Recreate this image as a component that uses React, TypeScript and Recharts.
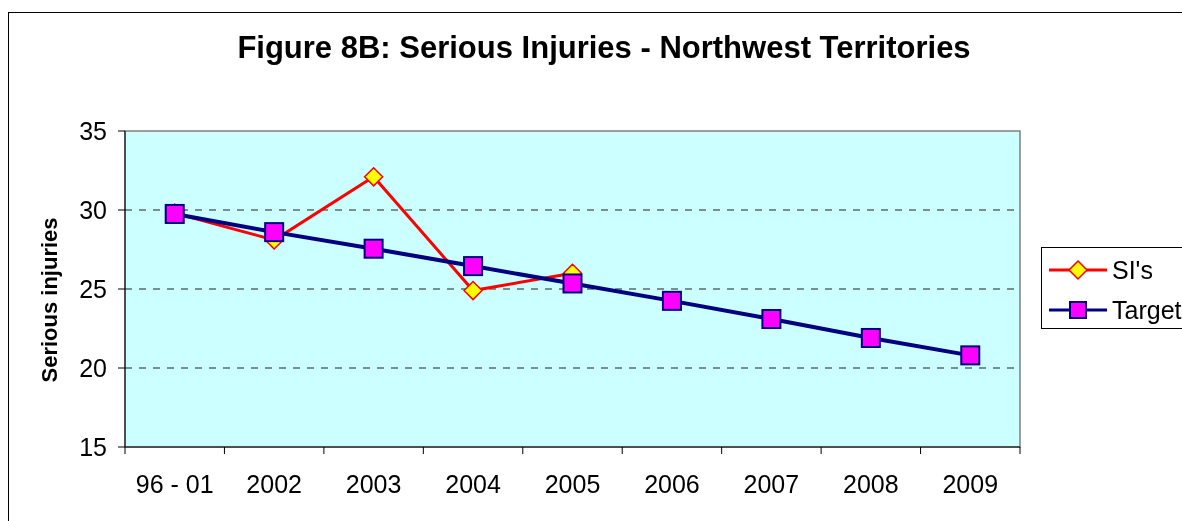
import { LineChart, Line, XAxis, YAxis, ReferenceArea, ReferenceLine } from 'recharts';

const categories = ['96 - 01', '2002', '2003', '2004', '2005', '2006', '2007', '2008', '2009'];
const siValues = [29.8, 28.1, 32.1, 24.9, 26.0, null, null, null, null];
const targetValues = [29.75, 28.6, 27.55, 26.45, 25.35, 24.25, 23.1, 21.9, 20.8];
const yTicks = [15, 20, 25, 30, 35];
const gridValues = [20, 25, 30];

const data = categories.map((name, i) => ({ name, si: siValues[i], target: targetValues[i] }));

const FONT = '"Liberation Sans", Arial, sans-serif';
const PLOT_W = 895;
const BAND = PLOT_W / categories.length;

const Diamond = (props: any) => {
  const { cx, cy } = props;
  if (cx == null || cy == null) return null;
  const r = 9;
  return (
    <polygon
      points={`${cx},${cy - r} ${cx + r},${cy} ${cx},${cy + r} ${cx - r},${cy}`}
      fill="#FFFF00"
      stroke="#FF0000"
      strokeWidth={1.5}
    />
  );
};

const Square = (props: any) => {
  const { cx, cy } = props;
  if (cx == null || cy == null) return null;
  return <rect x={cx - 9} y={cy - 9} width={18} height={18} fill="#FF00FF" stroke="#000080" strokeWidth={2} />;
};

const XTick = (props: any) => {
  const { x, y, payload, index } = props;
  return (
    <g>
      <line x1={x - BAND / 2} y1={y} x2={x - BAND / 2} y2={y + 7} stroke="#000" />
      {index === categories.length - 1 && (
        <line x1={x + BAND / 2} y1={y} x2={x + BAND / 2} y2={y + 7} stroke="#000" />
      )}
      <text x={x} y={y + 46} textAnchor="middle" fontSize={25} fontFamily={FONT} fill="#000">
        {payload.value}
      </text>
    </g>
  );
};

export default function App() {
  return (
    <div style={{ position: 'fixed', left: 8, top: 12, width: 1174, height: 509, overflow: 'hidden', fontFamily: FONT }}>
      <div style={{ position: 'absolute', left: 0, top: 0, width: 1300, height: 600, border: '1px solid #000', boxSizing: 'border-box' }} />

      <div style={{ position: 'absolute', left: 0, top: 18, width: 1192, textAlign: 'center', fontSize: 31, fontWeight: 'bold', whiteSpace: 'nowrap' }}>
        Figure 8B: Serious Injuries - Northwest Territories
      </div>

      <div
        style={{
          position: 'absolute', left: -108, top: 275, width: 300, height: 26, lineHeight: '26px',
          textAlign: 'center', fontSize: 22, fontWeight: 'bold', transform: 'rotate(-90deg)',
        }}
      >
        Serious injuries
      </div>

      <div style={{ position: 'absolute', left: 1, top: 1 }}>
        <LineChart width={1173} height={508} data={data} margin={{ top: 118, right: 162, left: 56, bottom: 34 }}>
          <ReferenceArea y1={15} y2={35} fill="#CCFFFF" fillOpacity={1} stroke="#808080" strokeWidth={1.5} />
          {gridValues.map((v) => (
            <ReferenceLine key={v} y={v} stroke="#222" strokeDasharray="7 7" />
          ))}
          <XAxis
            dataKey="name"
            scale="band"
            interval={0}
            height={40}
            tickLine={false}
            tickSize={0}
            tickMargin={0}
            axisLine={{ stroke: '#000' }}
            tick={<XTick />}
          />
          <YAxis
            domain={[15, 35]}
            ticks={yTicks}
            width={60}
            tickSize={7}
            tickMargin={11}
            axisLine={{ stroke: '#000' }}
            tickLine={{ stroke: '#000' }}
            tick={{ fontSize: 25, fill: '#000', fontFamily: FONT }}
          />
          <Line dataKey="si" stroke="#FF0000" strokeWidth={3} dot={<Diamond />} activeDot={false} isAnimationActive={false} />
          <Line dataKey="target" stroke="#000080" strokeWidth={4} dot={<Square />} activeDot={false} isAnimationActive={false} />
        </LineChart>
      </div>

      <div style={{ position: 'absolute', left: 1033, top: 235, width: 200, height: 82, border: '1px solid #000', background: '#fff', boxSizing: 'border-box' }}>
        <svg style={{ position: 'absolute', left: 7, top: 0 }} width={60} height={80}>
          <line x1={0} y1={22} x2={58} y2={22} stroke="#FF0000" strokeWidth={3} />
          <polygon points="29,13 38,22 29,31 20,22" fill="#FFFF00" stroke="#FF0000" strokeWidth={1.5} />
          <line x1={0} y1={62} x2={58} y2={62} stroke="#000080" strokeWidth={3} />
          <rect x={21} y={54} width={16} height={16} fill="#FF00FF" stroke="#000080" strokeWidth={2} />
        </svg>
        <div style={{ position: 'absolute', left: 70, top: 8, fontSize: 25, lineHeight: '28px', whiteSpace: 'nowrap' }}>SI's</div>
        <div style={{ position: 'absolute', left: 70, top: 48, fontSize: 25, lineHeight: '28px', whiteSpace: 'nowrap' }}>Target</div>
      </div>
    </div>
  );
}
